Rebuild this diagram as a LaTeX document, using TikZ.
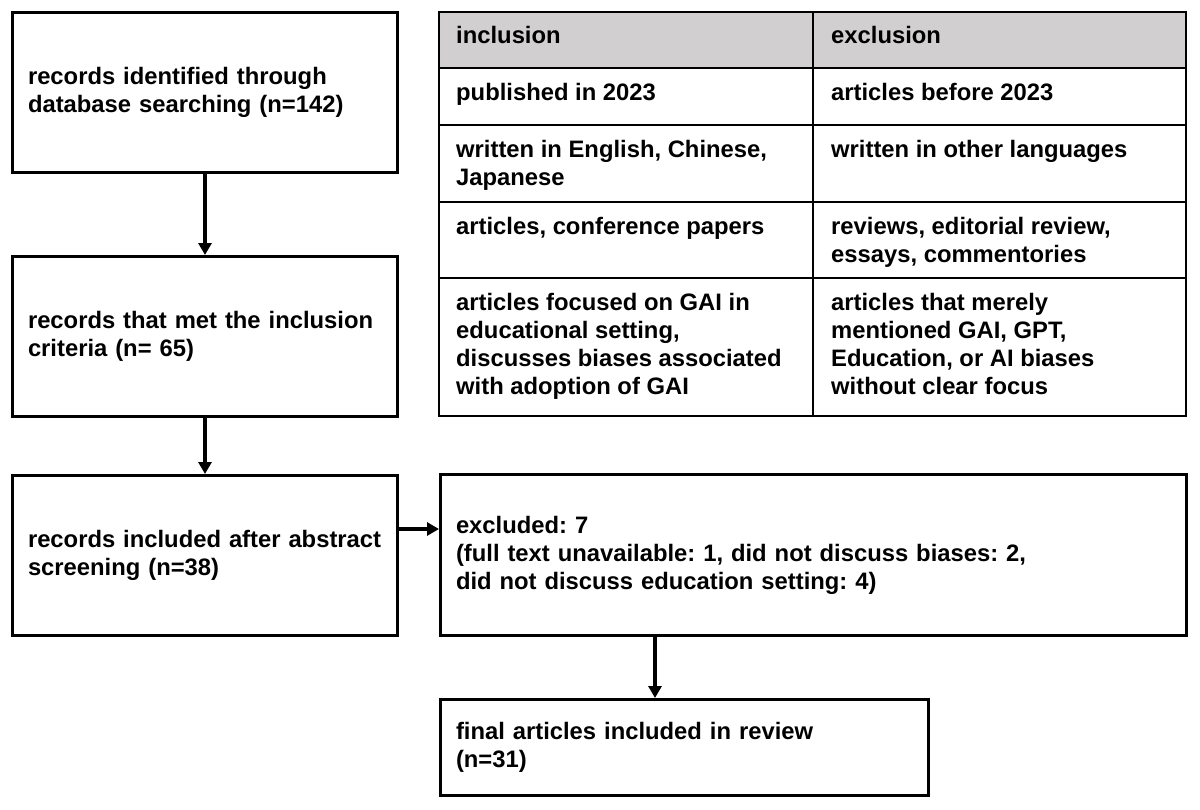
\documentclass[tikz,border=0pt]{standalone}
\usepackage{fontspec}
\setmainfont{Liberation Sans}
\usetikzlibrary{arrows.meta,calc}
\definecolor{hdr}{RGB}{209,207,207}
\newcommand{\diagfont}{\fontsize{23.8pt}{28pt}\selectfont\bfseries\frenchspacing}
\newcommand{\firststrut}{\rule{0pt}{20pt}}
\begin{document}
\begin{tikzpicture}[x=1pt,y=-1pt,
  box/.style={draw, line width=3pt, inner sep=0pt, align=left, font=\diagfont},
  arr/.style={line width=4pt, -{Triangle[length=12pt,width=13pt]}},
  gridline/.style={line width=2pt},
  celltext/.style={anchor=north west, inner sep=0pt, align=left, font=\diagfont}]
\useasboundingbox (0,0) rectangle (1200,809);

% left flow boxes
\node[box, minimum width=385pt, minimum height=160pt, text width=354pt] (b1) at (205,92.5)
  {records identified through\\database searching (n=142)};
\node[box, minimum width=385pt, minimum height=160pt, text width=354pt] (b2) at (205,336.5)
  {records that met the inclusion\\criteria (n= 65)};
\node[box, minimum width=385pt, minimum height=160pt, text width=354pt] (b3) at (205,555.5)
  {records included after abstract\\screening (n=38)};
\node[box, minimum width=746pt, minimum height=161pt, text width=715pt] (excl) at (813.5,555)
  {excluded: 7\\(full text unavailable: 1, did not discuss biases: 2,\\did not discuss education setting: 4)};
\node[box, minimum width=488pt, minimum height=96pt, text width=457pt] (final) at (684.5,747.5)
  {final articles included in review\\(n=31)};

% connectors
\draw[arr] (b1) -- (b2);
\draw[arr] (b2) -- (b3);
\draw[arr] ([yshift=26.5pt]b3.east) -- ([yshift=26.5pt]b3.east -| excl.west);
\coordinate (mx) at (655,0);
\draw[arr] (excl.south -| mx) -- (final.north -| mx);

% criteria table
\fill[hdr] (439,12) rectangle (1186,68);
\draw[gridline] (439,12) rectangle (1186,416);
\draw[gridline] (813,12) -- (813,416);
\draw[gridline] (439,68) -- (1186,68);
\draw[gridline] (439,125) -- (1186,125);
\draw[gridline] (439,202) -- (1186,202);
\draw[gridline] (439,278) -- (1186,278);

\node[celltext] (t00) at (456,23) {\firststrut inclusion};
\node[celltext] (t01) at (831,23) {\firststrut exclusion};
\node[celltext] (t10) at (456,80) {\firststrut published in 2023};
\node[celltext] (t11) at (831,80) {\firststrut articles before 2023};
\node[celltext] (t20) at (456,137) {\firststrut written in English, Chinese,\\Japanese};
\node[celltext] (t21) at (831,137) {\firststrut written in other languages};
\node[celltext] (t30) at (456,214) {\firststrut articles, conference papers};
\node[celltext] (t31) at (831,214) {\firststrut reviews, editorial review,\\essays, commentories};
\node[celltext] (t40) at (456,290) {\firststrut articles focused on GAI in\\educational setting,\\discusses biases associated\\with adoption of GAI};
\node[celltext] (t41) at (831,290) {\firststrut articles that merely\\mentioned GAI, GPT,\\Education, or AI biases\\without clear focus};
\end{tikzpicture}
\end{document}
